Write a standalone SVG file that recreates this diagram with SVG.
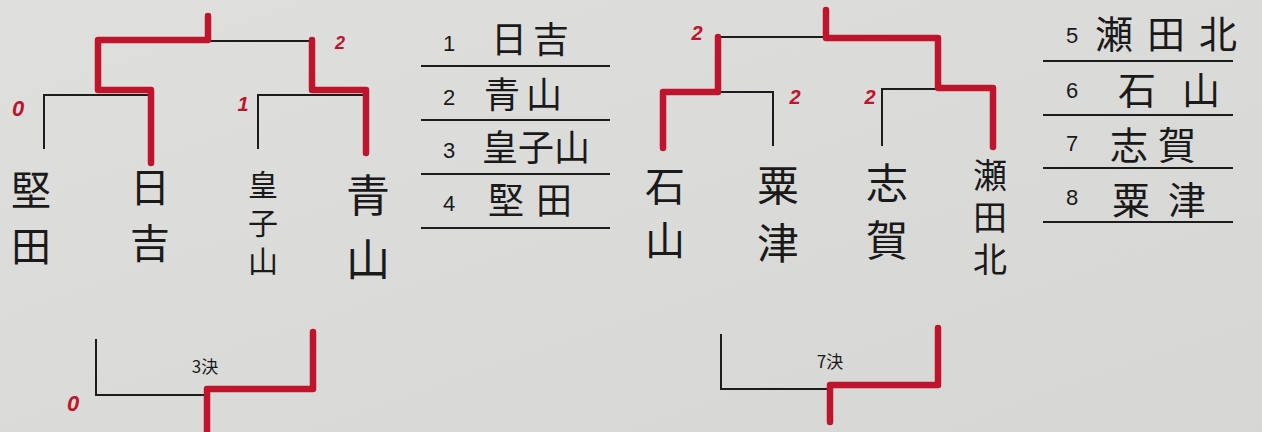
<svg xmlns="http://www.w3.org/2000/svg" width="1262" height="432" viewBox="0 0 1262 432">
<style>
.bl{fill:none;stroke:#1c1c1c;stroke-width:2;stroke-linecap:square}
.rd{fill:none;stroke:#c0142c;stroke-width:6.5;stroke-linecap:round;stroke-linejoin:round}
.tl{fill:none;stroke:#1c1c1c;stroke-width:2.2}
.nm{font-family:"Noto Sans CJK JP","Noto Sans CJK SC",sans-serif;fill:#1a1a1a;writing-mode:vertical-rl}
.tn{font-family:"Noto Sans CJK JP","Noto Sans CJK SC",sans-serif;fill:#1a1a1a}
.no{font-family:"Liberation Sans",Arial,sans-serif;fill:#1a1a1a;font-size:22px;text-anchor:middle}
.sc{font-family:"Liberation Sans",Arial,sans-serif;fill:#c0142c;font-weight:bold;font-style:italic;text-anchor:middle}
.lb{font-family:"Noto Sans CJK JP","Liberation Sans",sans-serif;fill:#1a1a1a;font-size:17px;text-anchor:middle}
</style>
<defs>
<linearGradient id="bg" x1="0" y1="0" x2="1" y2="1">
<stop offset="0" stop-color="#dfdfdd"/>
<stop offset="1" stop-color="#d6d6d4"/>
</linearGradient>
</defs>
<rect width="1262" height="432" fill="url(#bg)"/>

<g id="connectors">
<path class="bl" d="M210 41 H312"/>
<path class="bl" d="M44 148 V95 H152"/>
<path class="bl" d="M258 148 V95 H368"/>
<path class="rd" d="M208 16 V40 H98 V90 H151 V163"/>
<path class="rd" d="M312 40 V90 H366 V153"/>
<path class="bl" d="M719 37 H823"/>
<path class="bl" d="M718 92 H773 V145"/>
<path class="bl" d="M882 145 V89 H937"/>
<path class="rd" d="M826 10 V38 H938 V88 H993 V147"/>
<path class="rd" d="M718 37 V92 H663 V148"/>
<path class="bl" d="M96 340 V395 H207"/>
<path class="rd" d="M207 432 V389 H313 V332"/>
<path class="bl" d="M721 335 V389 H830"/>
<path class="rd" d="M830 422 V385 H938 V328"/>
</g>

<g id="team-katata"><text class="nm" x="31" y="170" font-size="40" letter-spacing="16">堅田</text></g>
<g id="team-hiyoshi"><text class="nm" x="150" y="167" font-size="40" letter-spacing="16">日吉</text></g>
<g id="team-oujiyama"><text class="nm" x="263" y="170" font-size="30" letter-spacing="8">皇子山</text></g>
<g id="team-aoyama"><text class="nm" x="368" y="173" font-size="44" letter-spacing="20">青山</text></g>

<g id="team-ishiyama"><text class="nm" x="665" y="166" font-size="40" letter-spacing="14">石山</text></g>
<g id="team-awazu"><text class="nm" x="778" y="164" font-size="42" letter-spacing="16">粟津</text></g>
<g id="team-shiga"><text class="nm" x="887" y="162" font-size="42" letter-spacing="15">志賀</text></g>
<g id="team-setakita"><text class="nm" x="990" y="158" font-size="34" letter-spacing="8">瀬田北</text></g>

<g id="scores">
<text class="sc" x="18" y="116" font-size="22">0</text>
<text class="sc" x="243" y="111" font-size="20">1</text>
<text class="sc" x="340" y="49" font-size="18">2</text>
<text class="sc" x="697" y="40" font-size="20">2</text>
<text class="sc" x="795" y="104" font-size="20">2</text>
<text class="sc" x="870" y="104" font-size="20">2</text>
<text class="sc" x="73" y="411" font-size="22">0</text>
</g>

<g id="label-3rd"><text class="lb" x="205" y="373">3決</text></g>
<g id="label-7th"><text class="lb" x="830" y="368">7決</text></g>

<g id="ranking-1-4">
<path class="tl" d="M421 66 H610 M421 120 H610 M421 174 H610 M421 228 H610"/>
<text class="no" x="449" y="51">1</text>
<text class="no" x="449" y="105">2</text>
<text class="no" x="449" y="158">3</text>
<text class="no" x="449" y="211">4</text>
<text class="tn" x="491" y="53" font-size="36" letter-spacing="6">日吉</text>
<text class="tn" x="484" y="108" font-size="36" letter-spacing="6">青山</text>
<text class="tn" x="482" y="161" font-size="36">皇子山</text>
<text class="tn" x="488" y="214" font-size="36" letter-spacing="12">堅田</text>
</g>

<g id="ranking-5-8">
<path class="tl" d="M1043 61 H1233 M1043 115 H1233 M1043 168 H1233 M1043 222 H1233"/>
<text class="no" x="1072" y="43">5</text>
<text class="no" x="1072" y="98">6</text>
<text class="no" x="1072" y="151">7</text>
<text class="no" x="1072" y="205">8</text>
<text class="tn" x="1095" y="48" font-size="38" letter-spacing="14">瀬田北</text>
<text class="tn" x="1118" y="104" font-size="38" letter-spacing="26">石山</text>
<text class="tn" x="1110" y="159" font-size="38" letter-spacing="10">志賀</text>
<text class="tn" x="1112" y="214" font-size="38" letter-spacing="18">粟津</text>
</g>
</svg>
